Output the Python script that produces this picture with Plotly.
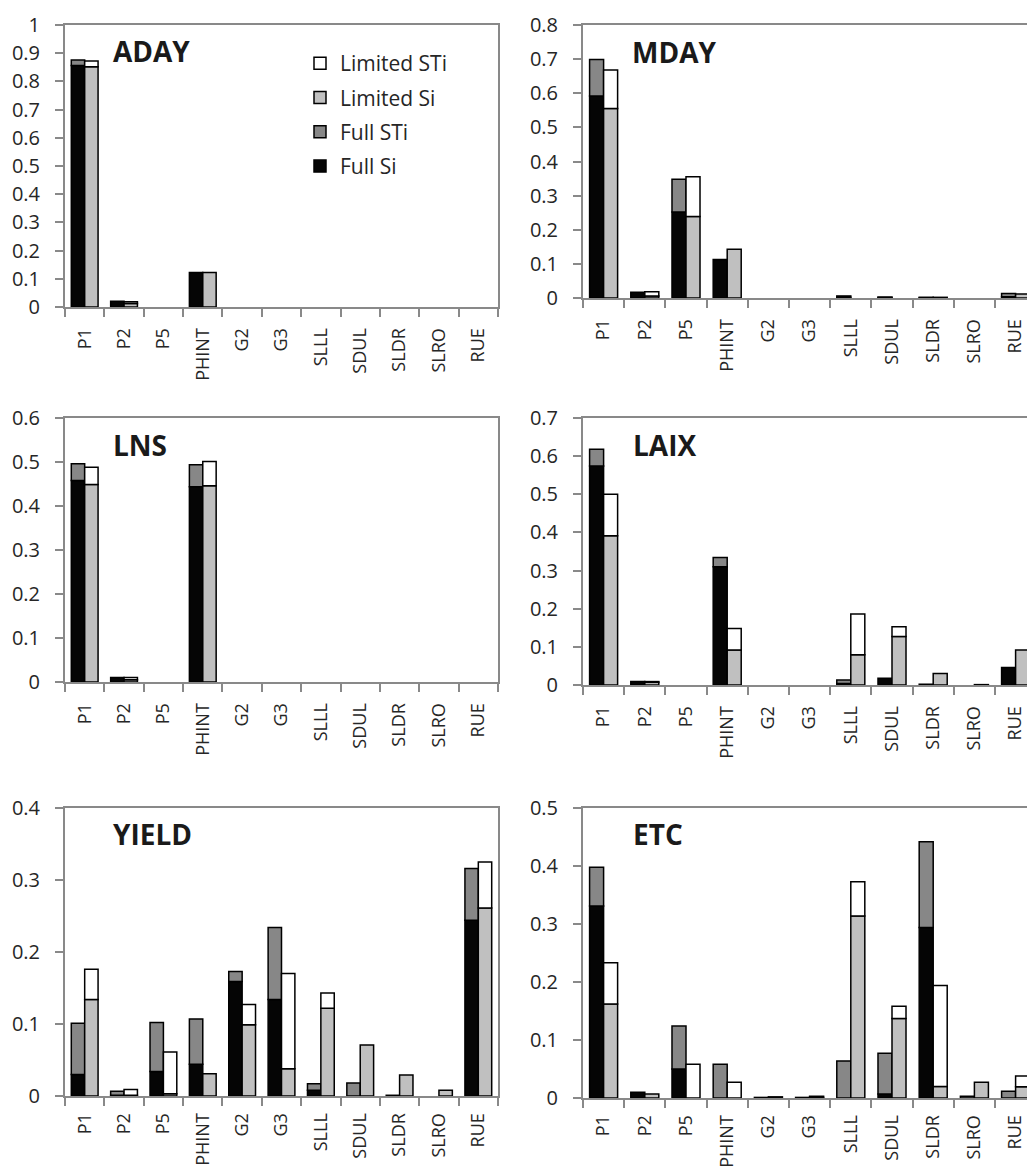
import plotly.graph_objects as go

categories = ["P1", "P2", "P5", "PHINT", "G2", "G3", "SLLL", "SDUL", "SLDR", "SLRO", "RUE"]

# ADAY
aday_full_si = [0.856, 0.020, 0, 0.122, 0, 0, 0, 0, 0, 0, 0]
aday_full_sti = [0.876, 0.020, 0, 0.122, 0, 0, 0, 0, 0, 0, 0]
aday_lim_si = [0.852, 0.012, 0, 0.122, 0, 0, 0, 0, 0, 0, 0]
aday_lim_sti = [0.872, 0.019, 0, 0.122, 0, 0, 0, 0, 0, 0, 0]

# MDAY
mday_full_si = [0.592, 0.017, 0.252, 0.113, 0, 0, 0.002, 0.001, 0.001, 0, 0.004]
mday_full_sti = [0.699, 0.017, 0.348, 0.113, 0, 0, 0.006, 0.003, 0.002, 0, 0.013]
mday_lim_si = [0.555, 0.006, 0.239, 0.143, 0, 0, 0, 0, 0.002, 0, 0.012]
mday_lim_sti = [0.668, 0.018, 0.355, 0.143, 0, 0, 0, 0, 0.002, 0, 0.012]

# LNS
lns_full_si = [0.458, 0.010, 0, 0.444, 0, 0, 0, 0, 0, 0, 0]
lns_full_sti = [0.496, 0.010, 0, 0.494, 0, 0, 0, 0, 0, 0, 0]
lns_lim_si = [0.449, 0.005, 0, 0.446, 0, 0, 0, 0, 0, 0, 0]
lns_lim_sti = [0.488, 0.010, 0, 0.501, 0, 0, 0, 0, 0, 0, 0]

# LAIX
laix_full_si = [0.574, 0.009, 0, 0.310, 0, 0, 0.004, 0.0175, 0.002, 0, 0.046]
laix_full_sti = [0.618, 0.009, 0, 0.334, 0, 0, 0.013, 0.0175, 0.002, 0, 0.046]
laix_lim_si = [0.391, 0.007, 0, 0.092, 0, 0, 0.079, 0.127, 0.030, 0.001, 0.092]
laix_lim_sti = [0.500, 0.009, 0, 0.148, 0, 0, 0.186, 0.153, 0.030, 0.001, 0.092]

# YIELD
yield_full_si = [0.030, 0.001, 0.034, 0.044, 0.159, 0.134, 0.008, 0, 0, 0, 0.244]
yield_full_sti = [0.101, 0.0065, 0.102, 0.107, 0.173, 0.234, 0.017, 0.018, 0.001, 0, 0.316]
yield_lim_si = [0.134, 0.001, 0.003, 0.031, 0.099, 0.038, 0.122, 0.071, 0.029, 0.008, 0.261]
yield_lim_sti = [0.176, 0.009, 0.061, 0.031, 0.127, 0.170, 0.143, 0.071, 0.029, 0.008, 0.325]

# ETC
etc_full_si = [0.331, 0.0097, 0.050, 0, 0, 0, 0, 0.007, 0.294, 0, 0]
etc_full_sti = [0.398, 0.0097, 0.124, 0.058, 0.001, 0.001, 0.064, 0.077, 0.442, 0.003, 0.0115]
etc_lim_si = [0.162, 0.007, 0, 0, 0.002, 0.001, 0.314, 0.137, 0.020, 0.027, 0.0195]
etc_lim_sti = [0.233, 0.007, 0.058, 0.027, 0.002, 0.003, 0.373, 0.158, 0.194, 0.027, 0.038]

panels = [
    ("ADAY", aday_full_si, aday_full_sti, aday_lim_si, aday_lim_sti, 1.0),
    ("MDAY", mday_full_si, mday_full_sti, mday_lim_si, mday_lim_sti, 0.8),
    ("LNS", lns_full_si, lns_full_sti, lns_lim_si, lns_lim_sti, 0.6),
    ("LAIX", laix_full_si, laix_full_sti, laix_lim_si, laix_lim_sti, 0.7),
    ("YIELD", yield_full_si, yield_full_sti, yield_lim_si, yield_lim_sti, 0.4),
    ("ETC", etc_full_si, etc_full_sti, etc_lim_si, etc_lim_sti, 0.5),
]

W, H = 1027, 1167
# pixel layout of each plot area: (x0, x1) and (ytop, ybottom)
left_x = (65, 498)
right_x = (583, 1027)
rows_left = [(25, 307), (418, 682), (808, 1096)]
rows_right = [(25, 298), (418, 685), (808, 1098)]
title_pos = [(111, 51), (630, 52), (111, 445), (631, 445), (111, 834), (631, 834)]
label_standoff = [12, 12, 8]

C_BLACK = "#050505"
C_DARK = "#878787"
C_LIGHT = "#c0c0c0"
C_WHITE = "#ffffff"
AX = "#898989"
TXT = "#262626"
FONT = "Open Sans"

bw = 0.34


def nz(vals):
    return [v if v > 0 else None for v in vals]


fig = go.Figure()
layout = {}
annotations = []

for i, (name, fsi, fsti, lsi, lsti, ymax) in enumerate(panels):
    k = i + 1
    xa = "x" if k == 1 else f"x{k}"
    ya = "y" if k == 1 else f"y{k}"
    right = (i % 2 == 1)
    row = i // 2
    x0, x1 = right_x if right else left_x
    yt, yb = (rows_right if right else rows_left)[row]
    show = (k == 1)
    f_top = [round(b - a, 5) for a, b in zip(fsi, fsti)]
    l_top = [round(b - a, 5) for a, b in zip(lsi, lsti)]
    specs = [
        ("Full Si", nz(fsi), [0] * len(fsi), C_BLACK, -bw, 4),
        ("Full STi", nz(f_top), fsi, C_DARK, -bw, 3),
        ("Limited Si", nz(lsi), [0] * len(lsi), C_LIGHT, 0, 2),
        ("Limited STi", nz(l_top), lsi, C_WHITE, 0, 1),
    ]
    for nm, vals, base, col, off, rank in specs:
        fig.add_trace(go.Bar(
            x=categories, y=vals, base=base, name=nm,
            width=bw, offset=off,
            marker=dict(color=col, line=dict(color="#000000", width=1.5)),
            xaxis=xa, yaxis=ya, showlegend=show,
            legendgroup=nm, legendrank=rank,
        ))

    if right:
        xr = [-0.5, -0.5 + (x1 - x0) / 41.2]
    else:
        xr = [-0.5, 10.5]
    xkey = "xaxis" if k == 1 else f"xaxis{k}"
    ykey = "yaxis" if k == 1 else f"yaxis{k}"
    layout[xkey] = dict(
        domain=[x0 / W, x1 / W], anchor=ya, type="category",
        categoryorder="array", categoryarray=categories,
        range=xr, tickson="boundaries", ticks="outside", ticklen=8,
        tickwidth=1.5, tickcolor=AX, showline=True, linecolor=AX,
        linewidth=2, mirror=True, tickangle=-90, showgrid=False,
        zeroline=False, automargin=False,
        tickfont=dict(family=FONT, size=18, color=TXT),
        ticklabelstandoff=label_standoff[row], fixedrange=True,
    )
    layout[ykey] = dict(
        domain=[1 - yb / H, 1 - yt / H], anchor=xa, range=[0, ymax],
        dtick=0.1, tick0=0, ticks="outside", ticklen=8, tickwidth=1.5,
        tickcolor=AX, showline=True, linecolor=AX, linewidth=2,
        mirror=(not right), showgrid=False, zeroline=False,
        automargin=False,
        tickfont=dict(family=FONT, size=20, color=TXT),
        ticklabelstandoff=11, fixedrange=True,
    )
    tx, ty = title_pos[i]
    annotations.append(dict(
        text=f"<b>{name}</b>", x=tx / W, y=1 - ty / H, xref="paper",
        yref="paper", xanchor="left", yanchor="middle", showarrow=False,
        font=dict(family=FONT, size=28, color="#1a1a1a"),
    ))

fig.update_layout(
    template="none",
    width=W, height=H, margin=dict(l=0, r=0, t=0, b=0, pad=0),
    paper_bgcolor="white", plot_bgcolor="white", barmode="overlay",
    font=dict(family=FONT, color=TXT),
    annotations=annotations,
    showlegend=True,
    legend=dict(
        x=(340 - 40) / W, y=1 - 43 / H, xanchor="left", yanchor="top",
        font=dict(family=FONT, size=21, color=TXT), traceorder="grouped",
        tracegroupgap=4, bgcolor="rgba(0,0,0,0)", borderwidth=0,
    ),
    **layout,
)

fig.write_html(
    "out.html",
    config={"displayModeBar": False},
    post_script="document.body.style.margin='0';document.body.style.overflow='hidden';",
)
